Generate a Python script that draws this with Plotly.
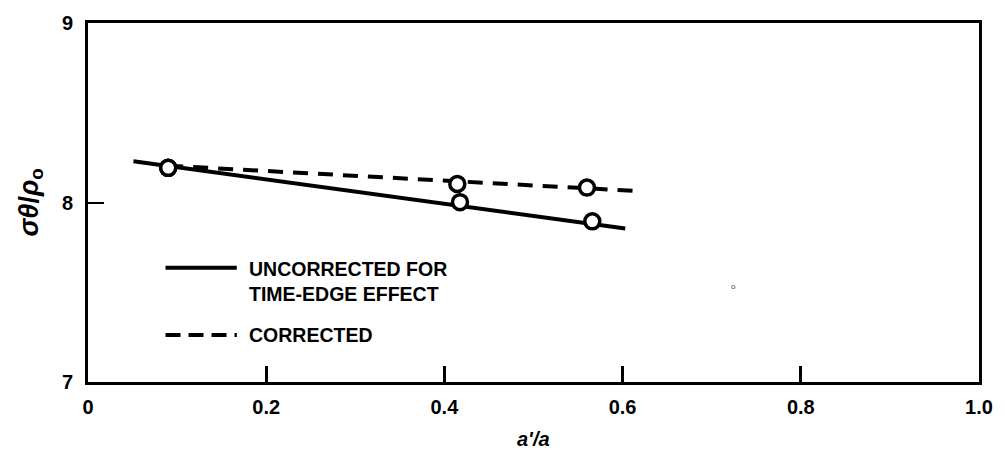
import plotly.graph_objects as go

# Measured points (a'/a, sigma_theta/p_o)
uncorr_x = [0.090, 0.4175, 0.566]
uncorr_y = [8.193, 8.002, 7.895]
corr_x = [0.090, 0.4145, 0.560]
corr_y = [8.193, 8.103, 8.083]

# Fitted lines (end points)
uncorr_fit_x = [0.051, 0.603]
uncorr_fit_y = [8.23, 7.855]
corr_fit_x = [0.090, 0.616]
corr_fit_y = [8.205, 8.064]

x_ticks = [0, 0.2, 0.4, 0.6, 0.8, 1.0]
x_ticklabels = ["0", "0.2", "0.4", "0.6", "0.8", "1.0"]
y_ticks = [7, 8, 9]
y_ticklabels = ["7", "8", "9"]

legend_labels = ["UNCORRECTED FOR<br>TIME-EDGE EFFECT", "CORRECTED"]

FONT = "Liberation Sans"

fig = go.Figure()

fig.add_trace(go.Scatter(x=uncorr_fit_x, y=uncorr_fit_y, mode="lines",
                         line=dict(color="black", width=4), showlegend=False))
fig.add_trace(go.Scatter(x=corr_fit_x, y=corr_fit_y, mode="lines",
                         line=dict(color="black", width=4, dash="15px,10px"), showlegend=False))
marker = dict(symbol="circle", size=15, color="white", line=dict(color="black", width=3.5))
fig.add_trace(go.Scatter(x=uncorr_x, y=uncorr_y, mode="markers", marker=marker, showlegend=False))
fig.add_trace(go.Scatter(x=corr_x, y=corr_y, mode="markers", marker=marker, showlegend=False))

# Legend drawn inside the plot
leg_x0, leg_x1 = 0.087, 0.167
leg_y = [7.636, 7.262]
fig.add_shape(type="line", xref="x", yref="y", x0=leg_x0, x1=leg_x1, y0=leg_y[0], y1=leg_y[0],
              line=dict(color="black", width=4))
fig.add_shape(type="line", xref="x", yref="y", x0=leg_x0, x1=leg_x1, y0=leg_y[1], y1=leg_y[1],
              line=dict(color="black", width=4, dash="15px,8px"))
fig.add_annotation(x=0.178, y=leg_y[0], xref="x", yref="y", text=legend_labels[0],
                   showarrow=False, xanchor="left", yanchor="top", yshift=12, align="left",
                   font=dict(family=FONT, size=19.5, color="black", weight="bold"))
fig.add_annotation(x=0.178, y=leg_y[1], xref="x", yref="y", text=legend_labels[1],
                   showarrow=False, xanchor="left", yanchor="middle", align="left",
                   font=dict(family=FONT, size=19.5, color="black", weight="bold"))

# small stray speck in the original scan
fig.add_annotation(x=0.724, y=7.53, xref="x", yref="y", text="o", showarrow=False,
                   font=dict(family=FONT, size=8, color="#444"))

# axis titles
fig.add_annotation(xref="paper", yref="paper", x=-0.065, y=0.5, xanchor="center", yanchor="middle",
                   text="<i>σθ</i>/<i>ρ</i><sub>o</sub>", textangle=-90, showarrow=False,
                   font=dict(family=FONT, size=27, color="black", weight="bold"))
fig.add_annotation(xref="paper", yref="paper", x=0.5, y=-0.16, xanchor="center", yanchor="middle",
                   text="<i>a'/a</i>", showarrow=False,
                   font=dict(family=FONT, size=20, color="black", weight="bold"))

fig.update_xaxes(range=[0, 1.0], tickvals=x_ticks, ticktext=x_ticklabels,
                 ticks="inside", ticklen=16, tickwidth=2.5, tickcolor="black",
                 showline=True, linecolor="black", linewidth=3, mirror=True,
                 showgrid=False, zeroline=False, ticklabelstandoff=5,
                 tickfont=dict(family=FONT, size=20, color="black", weight="bold"))
fig.update_yaxes(range=[7, 9], tickvals=y_ticks, ticktext=y_ticklabels,
                 ticks="inside", ticklen=16, tickwidth=2, tickcolor="black",
                 showline=True, linecolor="black", linewidth=3, mirror=True,
                 showgrid=False, zeroline=False, ticklabelstandoff=8,
                 tickfont=dict(family=FONT, size=20, color="black", weight="bold"))

fig.update_layout(width=1005, height=450, plot_bgcolor="white", paper_bgcolor="white",
                  margin=dict(l=88, r=18, t=19, b=68), showlegend=False)

fig.write_html("out.html")
